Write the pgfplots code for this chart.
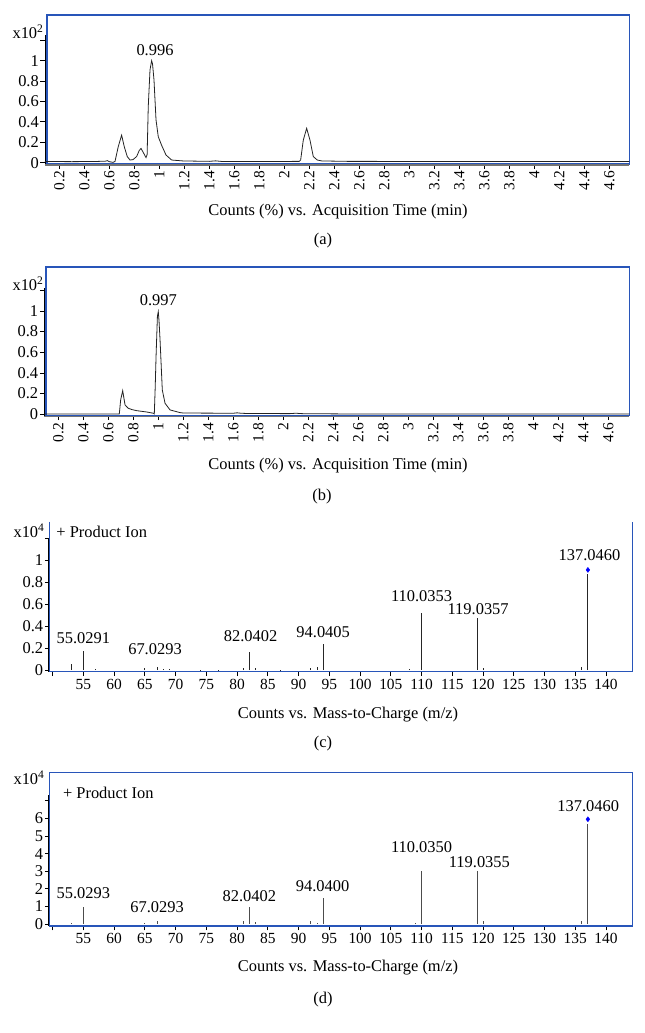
\documentclass[border=0pt]{standalone}
\usepackage{fontspec}
\setmainfont{Liberation Serif}
\usepackage{pgfplots}
\pgfplotsset{compat=1.18}
\definecolor{frameblue}{RGB}{40,85,185}
\definecolor{trace}{RGB}{35,35,35}

\pgfplotsset{
  base/.style={
    scale only axis, clip=false,
    axis line style={draw=none},
    tick pos=left, tick align=outside,
    major tick length=4.5bp,
    tick style={black, line width=0.8bp},
    yticklabel style={font=\fontsize{16.5}{18}\selectfont, inner sep=1.5bp},
  },
  chrom/.style={base,
    xtick={0.2,0.4,0.6,0.8,1,1.2,1.4,1.6,1.8,2,2.2,2.4,2.6,2.8,3,3.2,3.4,3.6,3.8,4,4.2,4.4,4.6},
    xticklabels={0.2,0.4,0.6,0.8,1,1.2,1.4,1.6,1.8,2,2.2,2.4,2.6,2.8,3,3.2,3.4,3.6,3.8,4,4.2,4.4,4.6},
    xticklabel style={font=\fontsize{15.5}{17}\selectfont, rotate=90, anchor=east, inner sep=2.5bp},
    ytick={0,0.2,0.4,0.6,0.8,1,1.2},
    yticklabels={0,0.2,0.4,0.6,0.8,1,{}},
  },
  ms/.style={base,
    xmin=49.46, xmax=144.3, width=583.2bp,
    xtick={50,55,...,140},
    xticklabels={{},55,60,65,70,75,80,85,90,95,100,105,110,115,120,125,130,135,140},
    xticklabel style={font=\fontsize{15.5}{17}\selectfont, inner sep=3bp},
  },
}

\begin{document}
\begin{tikzpicture}[font=\fontsize{16.5}{19}\selectfont]
\useasboundingbox (0,0) rectangle (645bp,-1033bp);

% (a)
\begin{axis}[chrom, at={(45bp,-164bp)}, anchor=south west,
  width=584.3bp, height=149bp,
  xmin=0.086, xmax=4.76, ymin=-0.013, ymax=1.448]
\draw[frameblue, line width=1.4bp] ([xshift=2bp]rel axis cs:0,0) rectangle (rel axis cs:1,1);
\draw[black!55, line width=1.8bp] ([yshift=-1bp]rel axis cs:0,0) -- ([yshift=-1bp]rel axis cs:1,0);
\draw[black, line width=0.9bp] (rel axis cs:0,0) -- (axis cs:0.086,1.25);
\addplot[trace, line width=0.8bp] coordinates {
 (0.086,0.012) (0.3,0.010) (0.5,0.012) (0.57,0.015) (0.585,0.02) (0.6,0.01)
 (0.63,0.003) (0.646,0.012) (0.672,0.157) (0.699,0.27) (0.72,0.157) (0.744,0.06)
 (0.766,0.026) (0.79,0.03) (0.819,0.06) (0.84,0.12) (0.854,0.14) (0.872,0.10)
 (0.894,0.05) (0.903,0.08) (0.912,0.55) (0.926,0.91) (0.939,1.0) (0.946,0.97)
 (0.958,0.81) (0.974,0.42) (0.992,0.255) (1.019,0.17) (1.054,0.075) (1.099,0.026)
 (1.19,0.017) (1.4,0.013) (1.45,0.018) (1.5,0.012) (2.0,0.012) (2.12,0.013)
 (2.131,0.026) (2.152,0.22) (2.179,0.337) (2.206,0.22) (2.232,0.06) (2.264,0.026)
 (2.3,0.017) (2.5,0.013) (3.0,0.012) (3.5,0.012) (4.0,0.012) (4.5,0.012) (4.76,0.012)
};
\node at (axis cs:0.966,1.105) {0.996};
\end{axis}
\node at (28bp,-32bp) {x10\textsuperscript{2}};
\node at (338bp,-212bp) {Counts (\%) vs. Acquisition Time (min)};
\node at (323bp,-241bp) {(a)};

% (b)
\begin{axis}[chrom, at={(44.3bp,-415.5bp)}, anchor=south west,
  width=585bp, height=148.5bp,
  xmin=0.088, xmax=4.768, ymin=-0.012, ymax=1.426]
\draw[frameblue, line width=1.4bp] ([xshift=1.5bp]rel axis cs:0,0) rectangle (rel axis cs:1,1);
\draw[black!55, line width=1.8bp] ([yshift=-1bp]rel axis cs:0,0) -- ([yshift=-1bp]rel axis cs:1,0);
\draw[black, line width=0.9bp] (rel axis cs:0,0) -- (axis cs:0.088,1.22);
\addplot[trace, line width=0.8bp] coordinates {
 (0.088,0.003) (0.5,0.003) (0.688,0.003) (0.699,0.14) (0.715,0.228) (0.734,0.09)
 (0.76,0.058) (0.79,0.045) (0.827,0.035) (0.87,0.028) (0.907,0.022) (0.96,0.01)
 (0.968,0.003) (0.975,0.25) (0.982,0.56) (0.993,0.95) (1.0,0.993) (1.006,0.9)
 (1.014,0.72) (1.032,0.235) (1.054,0.106) (1.094,0.042) (1.174,0.016) (1.2,0.012)
 (1.6,0.01) (1.63,0.014) (1.66,0.01) (1.7,0.008) (2.05,0.006) (2.1,0.01)
 (2.15,0.006) (2.5,0.003) (4.768,0.003)
};
\node at (axis cs:1.0,1.106) {0.997};
\end{axis}
\node at (28bp,-284bp) {x10\textsuperscript{2}};
\node at (338bp,-466bp) {Counts (\%) vs. Acquisition Time (min)};
\node at (322bp,-497bp) {(b)};

% (c)
\begin{axis}[ms, at={(49.3bp,-671.7bp)}, anchor=south west,
  height=150.2bp, ymin=-0.015, ymax=1.35,
  ytick={0,0.2,0.4,0.6,0.8,1,1.2},
  yticklabels={0,0.2,0.4,0.6,0.8,1,{}}]
\draw[frameblue, line width=1.4bp] (rel axis cs:0,1) -- (rel axis cs:0,0) -- (rel axis cs:1,0) -- (rel axis cs:1,1);
\draw[black, line width=0.9bp] ([xshift=-1bp]rel axis cs:0,0) -- ([xshift=-1bp]axis cs:49.46,1.2);
\addplot[ycomb, black!85, line width=0.9bp] coordinates {
 (53,0.055) (55.0291,0.17) (57,0.006) (65,0.02) (67.0293,0.03) (68,0.006)
 (69,0.006) (74,0.004) (77,0.005) (81,0.02) (82.0402,0.167) (83,0.015)
 (87,0.004) (92,0.02) (93,0.03) (94.0405,0.236) (108,0.01) (110.0353,0.515)
 (119.0357,0.47) (120,0.015) (136,0.025) (137.046,0.873)
};
\addplot[only marks, mark=diamond*, mark size=2.5bp, blue] coordinates {(137.046,0.91)};
\node at (axis cs:55,0.29) {55.0291};
\node at (axis cs:66.65,0.19) {67.0293};
\node at (axis cs:82.2,0.31) {82.0402};
\node at (axis cs:94.0,0.34) {94.0405};
\node at (axis cs:110,0.67) {110.0353};
\node at (axis cs:119.2,0.55) {119.0357};
\node at (axis cs:137.3,1.045) {137.0460};
\end{axis}
\node at (29bp,-531bp) {x10\textsuperscript{4}};
\node at (101.7bp,-531.7bp) {+ Product Ion};
\node at (348bp,-715bp) {Counts vs. Mass-to-Charge (m/z)};
\node at (323bp,-744bp) {(c)};

% (d)
\begin{axis}[ms, at={(49.3bp,-925.8bp)}, anchor=south west,
  height=153.2bp, ymin=-0.1, ymax=8.6,
  ytick={0,1,2,3,4,5,6,7},
  yticklabels={0,1,2,3,4,5,6,{}}]
\draw[frameblue, line width=1.4bp] (rel axis cs:0,0) rectangle (rel axis cs:1,1);
\draw[black, line width=0.9bp] ([xshift=-1bp]rel axis cs:0,0) -- ([xshift=-1bp]axis cs:49.46,7.33);
\addplot[ycomb, black!70, line width=0.9bp] coordinates {
 (53,0.05) (55.0293,0.98) (65,0.05) (67.0293,0.17) (81,0.15) (82.0402,0.95)
 (83,0.1) (92,0.2) (93,0.08) (94.04,1.46) (109,0.06) (110.035,3.03)
 (119.0355,3.03) (120,0.2) (136,0.15) (137.046,5.68)
};
\addplot[only marks, mark=diamond*, mark size=2.5bp, blue] coordinates {(137.046,5.95)};
\node at (axis cs:55,1.74) {55.0293};
\node at (axis cs:67.0,0.95) {67.0293};
\node at (axis cs:82.0,1.61) {82.0402};
\node at (axis cs:93.9,2.16) {94.0400};
\node at (axis cs:110.0,4.39) {110.0350};
\node at (axis cs:119.4,3.5) {119.0355};
\node at (axis cs:137.1,6.72) {137.0460};
\end{axis}
\node at (29bp,-778bp) {x10\textsuperscript{4}};
\node at (108.3bp,-792.7bp) {+ Product Ion};
\node at (348bp,-968bp) {Counts vs. Mass-to-Charge (m/z)};
\node at (323bp,-1000bp) {(d)};
\end{tikzpicture}
\end{document}
